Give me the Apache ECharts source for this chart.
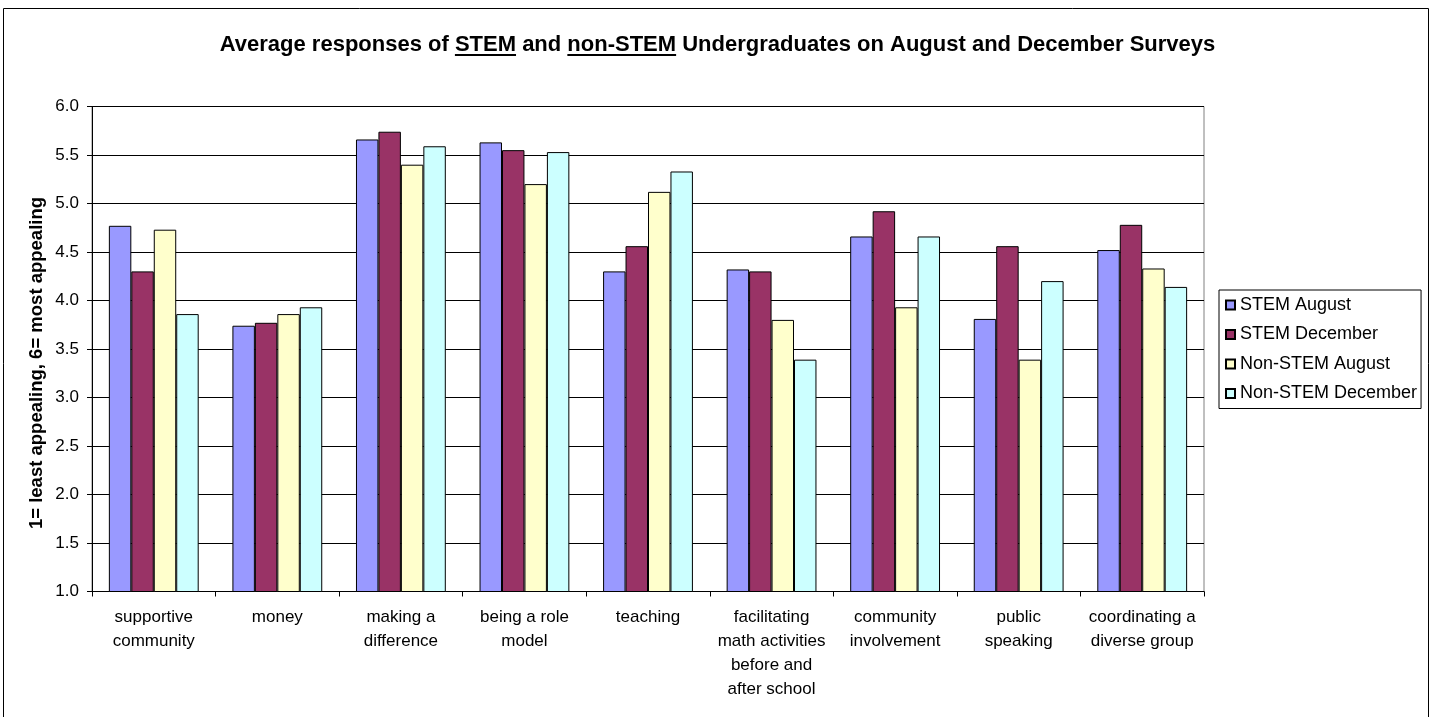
<!DOCTYPE html>
<html>
<head>
<meta charset="utf-8">
<title>STEM and non-STEM survey responses</title>
<script src="https://cdn.jsdelivr.net/npm/echarts@6/dist/echarts.min.js"></script>
<style>
  html, body { margin: 0; padding: 0; background: #fff; }
  #main { width: 1435px; height: 717px; }
</style>
</head>
<body>
<div id="main"></div>
<script>
// 类别（横轴）
var categories = [
  'supportive\ncommunity',
  'money',
  'making a\ndifference',
  'being a role\nmodel',
  'teaching',
  'facilitating\nmath activities\nbefore and\nafter school',
  'community\ninvolvement',
  'public\nspeaking',
  'coordinating a\ndiverse group'
]
var seriesNames = ['STEM August', 'STEM December', 'Non-STEM August', 'Non-STEM December']
// 各系列数值
var stemAugust = [4.77, 3.74, 5.66, 5.63, 4.30, 4.32, 4.66, 3.81, 4.52]
var stemDecember = [4.30, 3.77, 5.74, 5.55, 4.56, 4.30, 4.92, 4.56, 4.78]
var nonStemAugust = [4.73, 3.86, 5.40, 5.20, 5.12, 3.80, 3.93, 3.39, 4.33]
var nonStemDecember = [3.86, 3.93, 5.59, 5.53, 5.33, 3.39, 4.66, 4.20, 4.14]
// 纵轴刻度
var yMin = 1.0
var yMax = 6.0
var yStep = 0.5
var yName = '1= least appealing, 6= most appealing'

var colors = ['#9999ff', '#993366', '#ffffcc', '#ccffff']
var FONT = "'Liberation Sans', Arial, sans-serif"
var TITLE_SIZE = 22

// 标题分段，带下划线的是 STEM / non-STEM
var titleParts = ['Average responses of ', 'STEM', ' and ', 'non-STEM', ' Undergraduates on August and December Surveys']

var chart = echarts.init(document.getElementById('main'))

function underlines() {
  var ctx = document.createElement('canvas').getContext('2d')
  ctx.font = 'bold ' + TITLE_SIZE + 'px ' + FONT
  var w = function(s) { return ctx.measureText(s).width }
  var x = chart.getWidth() / 2 - w(titleParts.join('')) / 2
  var lines = []
  titleParts.forEach(function(p, i) {
    if (i === 1 || i === 3) {
      lines.push({
        type: 'line',
        shape: { x1: x, y1: 55, x2: x + w(p), y2: 55 },
        style: { stroke: '#000', lineWidth: 2 },
        silent: true
      })
    }
    x += w(p)
  })
  return lines
}

var series = [stemAugust, stemDecember, nonStemAugust, nonStemDecember].map(function(data, i) {
  return {
    name: seriesNames[i],
    type: 'bar',
    data: data,
    barGap: '0%',
    barCategoryGap: '27.3%',
    itemStyle: { color: colors[i], borderColor: '#000', borderWidth: 1 }
  }
})

chart.setOption({
  animation: false,
  textStyle: { fontFamily: FONT },
  title: {
    text: titleParts.join(''),
    left: 'center',
    top: 29,
    textStyle: { fontFamily: FONT, fontSize: TITLE_SIZE, fontWeight: 'bold', color: '#000' }
  },
  legend: {
    orient: 'vertical',
    left: 1219,
    top: 290,
    padding: [6, 4, 6, 6],
    borderColor: '#000',
    borderWidth: 1,
    itemWidth: 9,
    itemHeight: 9,
    itemGap: 11.5,
    icon: 'rect',
    data: seriesNames,
    textStyle: { fontFamily: FONT, fontSize: 18, color: '#000' }
  },
  grid: {
    left: 92,
    right: 231,
    top: 106.5,
    bottom: 125.5,
    show: true,
    borderColor: '#808080',
    borderWidth: 1
  },
  xAxis: {
    type: 'category',
    data: categories,
    axisLine: { lineStyle: { color: '#000', width: 1 } },
    axisTick: { show: true, length: 5, lineStyle: { color: '#000' } },
    axisLabel: {
      interval: 0,
      margin: 14,
      fontFamily: FONT,
      fontSize: 17,
      lineHeight: 24,
      color: '#000'
    }
  },
  yAxis: {
    type: 'value',
    min: yMin,
    max: yMax,
    interval: yStep,
    axisLine: { show: true, lineStyle: { color: '#000', width: 1 } },
    axisTick: { show: true, length: 5, lineStyle: { color: '#000' } },
    axisLabel: {
      margin: 13,
      fontFamily: FONT,
      fontSize: 17,
      color: '#000',
      formatter: function(v) { return v.toFixed(1) }
    },
    splitLine: { show: true, lineStyle: { color: '#000', width: 1 } }
  },
  series: series
})

// 外框 + 纵轴标题 + 标题下划线
chart.setOption({
  graphic: [{
    type: 'rect',
    shape: { x: 3.5, y: 8.5, width: 1425, height: 720 },
    style: { fill: 'none', stroke: '#000', lineWidth: 1 },
    silent: true
  }, {
    type: 'text',
    x: 37,
    y: 363,
    rotation: Math.PI / 2,
    style: {
      text: yName,
      font: 'bold 18.5px ' + FONT,
      fill: '#000',
      align: 'center',
      verticalAlign: 'middle'
    },
    silent: true
  }].concat(underlines())
})
</script>
</body>
</html>
